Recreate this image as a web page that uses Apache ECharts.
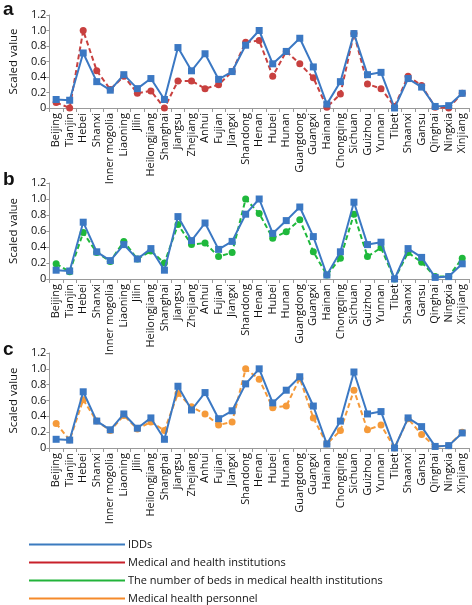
<!DOCTYPE html>
<html><head><meta charset="utf-8">
<script src="https://cdn.jsdelivr.net/npm/echarts@6/dist/echarts.min.js"></script>
<style>html,body{margin:0;padding:0;background:#fff}#c{width:472px;height:605px}</style>
</head><body><div id="c"></div>
<script>
const provinces = ["Beijing","Tianjin","Hebei","Shanxi","Inner mogolia","Liaoning","Jilin","Heilongjiang","Shanghai","Jiangsu","Zhejiang","Anhui","Fujian","Jiangxi","Shandong","Henan","Hubei","Hunan","Guangdong","Guangxi","Hainan","Chongqing","Sichuan","Guizhou","Yunnan","Tibet","Shaanxi","Gansu","Qinghai","Ningxia","Xinjiang"];
const idds = [0.11,0.10,0.71,0.34,0.23,0.43,0.25,0.38,0.11,0.78,0.48,0.70,0.37,0.47,0.81,1.0,0.57,0.73,0.90,0.53,0.05,0.34,0.96,0.43,0.46,0.0,0.38,0.27,0.02,0.03,0.19];
const institutions = [0.07,0.0,1.0,0.48,0.24,0.41,0.19,0.22,0.0,0.35,0.35,0.25,0.30,0.47,0.85,0.87,0.41,0.73,0.57,0.39,0.01,0.18,0.96,0.31,0.25,0.02,0.41,0.29,0.01,0.0,0.19];
const beds = [0.19,0.09,0.58,0.33,0.22,0.47,0.25,0.35,0.20,0.68,0.43,0.45,0.28,0.33,1.0,0.82,0.51,0.59,0.74,0.34,0.05,0.26,0.81,0.28,0.39,0.0,0.33,0.21,0.03,0.03,0.26];
const personnel = [0.31,0.10,0.61,0.34,0.22,0.41,0.24,0.33,0.22,0.69,0.52,0.43,0.29,0.33,1.0,0.87,0.51,0.53,0.88,0.38,0.05,0.22,0.73,0.23,0.29,0.0,0.37,0.17,0.02,0.03,0.20];
const yTicks = [0,0.2,0.4,0.6,0.8,1.0,1.2];
const names = ["IDDs","Medical and health institutions","The number of beds in medical health institutions","Medical health personnel"];
const colors = ["#3b78c3","#c8403f","#1fb83c","#f59a3a"];
const legendColors = ["#3b7bbf","#c8202a","#22b33a","#f58a2a"];
const panelLetters = ["a","b","c"];

const grids = [{top:15,height:93},{top:183,height:96},{top:353,height:95}];
const fontFam = "'Open Sans', 'Noto Sans', sans-serif";

const option = {
  animation:false,
  grid: grids.map(g=>({left:32,right:3,top:g.top,height:g.height})),
  xAxis: grids.map((g,i)=>({
    type:'category', gridIndex:i, data:provinces, boundaryGap:true,
    axisLine:{lineStyle:{color:'#999',width:1}},
    axisTick:{show:true,length:4,lineStyle:{color:'#999'}},
    axisLabel:{rotate:90,interval:0,fontSize:11,color:'#111',fontFamily:fontFam,margin:5}
  })),
  yAxis: grids.map((g,i)=>({
    type:'value', gridIndex:i, min:0, max:1.2, interval:0.2,
    name:'Scaled value', nameLocation:'middle', nameGap:19, nameRotate:90,
    nameTextStyle:{fontSize:11.5,color:'#111',fontFamily:fontFam},
    splitLine:{show:false},
    axisLine:{show:true,lineStyle:{color:'#999'}},
    axisTick:{show:true,length:3,lineStyle:{color:'#999'}},
    axisLabel:{fontSize:11,color:'#111',fontFamily:fontFam,margin:3,
      formatter:v=>v===0?'0':v.toFixed(1)}
  })),
  legend:{
    orient:'vertical', left:24, top:532, height:100, itemGap:3, itemWidth:96, itemHeight:2,
    icon:'rect', itemStyle:{borderWidth:0},
    data:names.map((n,i)=>({name:n,itemStyle:{color:legendColors[i]}})),
    textStyle:{fontSize:11,lineHeight:15,color:'#111',fontFamily:fontFam,padding:[0,0,0,-2]}
  },
  graphic: panelLetters.map((t,i)=>({
    type:'text', left:3, top:[0,170,340][i],
    style:{text:t,font:"bold 19px 'Liberation Sans', Arial, sans-serif",fill:'#111'}
  })),
  series: []
};
const others = [institutions, beds, personnel];
for(let i=0;i<3;i++){
  option.series.push({
    name:names[i+1], type:'line', xAxisIndex:i, yAxisIndex:i, data:others[i],
    symbol:'circle', symbolSize:7, color:colors[i+1],
    lineStyle:{width:2,type:[5,3],color:colors[i+1]}, itemStyle:{color:colors[i+1]}, z:2
  });
  option.series.push({
    name:names[0], type:'line', xAxisIndex:i, yAxisIndex:i, data:idds,
    symbol:'rect', symbolSize:7, color:colors[0],
    lineStyle:{width:2,color:colors[0]}, itemStyle:{color:colors[0]}, z:3
  });
}
const chart = echarts.init(document.getElementById('c'),null,{renderer:'canvas'});
chart.setOption(option);
</script></body></html>
